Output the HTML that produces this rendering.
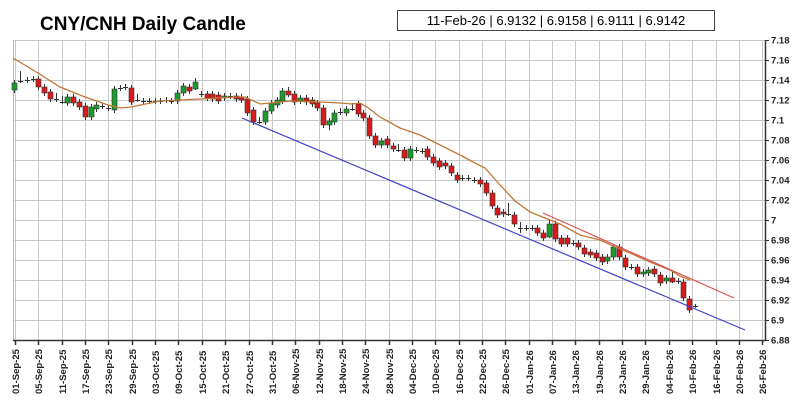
<!DOCTYPE html>
<html><head><meta charset="utf-8"><style>
body{margin:0;background:#fff;width:800px;height:400px;overflow:hidden}
svg{display:block}
text{font-family:"Liberation Sans",Arial,sans-serif}
</style></head><body>
<svg id="s" width="800" height="400" xmlns="http://www.w3.org/2000/svg">
<text x="40" y="30" font-size="19" font-weight="bold" fill="#000">CNY/CNH Daily Candle</text>
<rect x="397.5" y="10.5" width="317" height="20" fill="#fff" stroke="#444"/>
<text x="556" y="25" font-size="13" text-anchor="middle" fill="#000">11-Feb-26 | 6.9132 | 6.9158 | 6.9111 | 6.9142</text>
<g id="g"></g>
</svg>
<script>
var g=document.getElementById('g'),h='';
function L(x1,y1,x2,y2,c,w){h+='<line x1="'+x1+'" y1="'+y1+'" x2="'+x2+'" y2="'+y2+'" stroke="'+c+'" stroke-width="'+(w||1)+'"/>';}
// horizontal grid
var labs=['7.18','7.16','7.14','7.12','7.1','7.08','7.06','7.04','7.02','7','6.98','6.96','6.94','6.92','6.9','6.88'];
for(var i=0;i<16;i++){var y=40+i*20;L(13,y+.5,765,y+.5,'#c8c8c8');L(765,y+.5,769,y+.5,'#333');
h+='<text x="771" y="'+(y+3.5)+'" font-size="9.5" font-weight="bold" fill="#222">'+labs[i]+'</text>';}
var xl=['01-Sep-25','05-Sep-25','11-Sep-25','17-Sep-25','23-Sep-25','29-Sep-25','03-Oct-25','09-Oct-25','15-Oct-25','21-Oct-25','27-Oct-25','31-Oct-25','06-Nov-25','12-Nov-25','18-Nov-25','24-Nov-25','28-Nov-25','04-Dec-25','10-Dec-25','16-Dec-25','22-Dec-25','26-Dec-25','01-Jan-26','07-Jan-26','13-Jan-26','19-Jan-26','23-Jan-26','29-Jan-26','04-Feb-26','10-Feb-26','16-Feb-26','20-Feb-26','26-Feb-26'];
for(var i=0;i<33;i++){var x=Math.round(15+i*23.35)+.5;L(x,40,x,340,'#c8c8c8');L(x,340,x,345,'#333',1.5);
h+='<text transform="translate('+(x+3.5)+',394) rotate(-90)" font-size="9.5" font-weight="bold" fill="#222">'+xl[i]+'</text>';}
L(13.5,40,13.5,340,'#bbb');
L(13,340.5,766,340.5,'#333',1.5);L(765.5,40,765.5,341,'#333',1.5);
// candles: x, top, bottom, color(g/r/d)
var C=[[14,83,90,'g'],[20,81,81,'d',71,83],[27,80,80,'d'],[33,79,79,'d'],[38,79,87,'r'],[44,87,93,'r'],[50,92,99,'r'],[56,99,99,'d',93,102],[62,102,102,'d',96,104],[67,97,103,'g'],[73,97,103,'r'],[79,102,107,'r'],[85,106,117,'r'],[91,107,117,'g'],[96,105,109,'g'],[102,106,106,'d'],[108,108,108,'d'],[114,89,110,'g'],[120,88,88,'d'],[125,87,87,'d'],[131,88,102,'r'],[137,100,100,'d',94,102],[143,101,101,'d'],[149,101,101,'d'],[155,101,101,'d'],[160,101,101,'d'],[166,100,100,'d'],[171,101,101,'d'],[177,93,101,'g'],[183,86,93,'g'],[189,87,91,'r'],[195,82,89,'g',78,90],[201,94,94,'d'],[207,94,98,'r'],[212,94,99,'r'],[218,95,101,'r'],[224,96,98,'g'],[230,96,96,'d'],[236,96,99,'r'],[241,97,100,'r'],
[247,99,113,'r'],[253,110,122,'r'],[259,122,122,'d',117,124],[265,111,122,'g',108,125],[271,103,111,'g'],[277,100,105,'g'],[282,91,101,'g'],[288,91,95,'r',87,97],[294,94,102,'r'],[300,98,101,'g'],[306,98,102,'r'],[312,100,104,'r'],[317,103,108,'r'],[323,108,125,'r'],[329,121,125,'g',118,130],[334,113,122,'g'],[340,112,112,'d',108,115],[346,109,113,'g'],[352,109,109,'d',103,111],[358,104,114,'r'],[363,113,118,'r'],[369,118,136,'r'],[375,136,145,'r'],[381,141,145,'g'],[387,139,145,'r'],[393,146,149,'r'],[398,150,150,'d',144,152],[404,150,158,'r'],[410,149,158,'g'],[416,150,150,'d'],[422,151,151,'d'],[427,149,157,'r'],[433,157,163,'r'],[439,161,167,'r'],[445,163,166,'r'],[451,166,173,'r'],[457,175,180,'r'],[462,178,178,'d'],[468,178,178,'d'],[474,180,180,'d'],[480,180,184,'r'],[486,183,193,'r'],[492,193,206,'r'],[497,208,215,'r'],[503,212,214,'r'],[508,214,214,'d',203,216],[514,215,224,'r'],[520,228,228,'d',222,233],[526,228,228,'d'],[532,228,228,'d'],[537,228,233,'r'],[543,233,238,'r'],[549,224,237,'g',220,238],[555,224,239,'r'],[561,238,244,'r'],[567,238,244,'r'],[573,243,243,'d'],[578,243,247,'r'],[584,248,254,'r'],[590,252,255,'r'],[596,253,258,'r'],[602,257,262,'r'],[607,257,261,'g'],[613,247,257,'g'],[619,247,257,'r'],[625,258,267,'r'],[631,267,267,'d'],[637,267,274,'r'],[643,272,274,'g'],[648,270,273,'g'],[654,269,274,'r'],[660,275,283,'r'],[666,278,281,'g'],[672,278,282,'r',270,283],[678,281,281,'d'],[683,282,298,'r'],[689,299,310,'r'],[695,306,306,'d',304,308]];
C.forEach(function(c){var x=c[0]+.5,wt=c[4]||c[1]-3,wb=c[5]||c[2]+3;
L(x,wt,x,wb,'#333');
if(c[3]=='d'){L(x-2.5,c[1]+.5,x+2.5,c[1]+.5,'#333');}
else{var f=c[3]=='g'?'#1f9a2c':'#d81a1a';h+='<rect x="'+(x-2.5)+'" y="'+c[1]+'" width="5" height="'+Math.max(2,c[2]-c[1])+'" fill="'+f+'" stroke="#333" stroke-width="0.6"/>';}});
// lines
h+='<polyline fill="none" stroke="#c07838" stroke-width="1.3" points="13,58 38,73 60,87 85,97 108,105 120,108 131,107 160,101 200,99 235,97 245,97 260,104 270,103 290,101 320,102 340,103 352,104 360,103 367,107 380,117 400,128 420,135 440,145 460,155 475,163 485,168 500,185 515,201 530,212 545,218 560,224 580,235 600,240 613,246 630,253 650,262 670,270 680,276 690,280"/>';
L(543,213,734,298,'#e05050',1.2);
L(242,118,745,330,'#4040c8',1.2);
g.innerHTML=h;
</script>
</body></html>
